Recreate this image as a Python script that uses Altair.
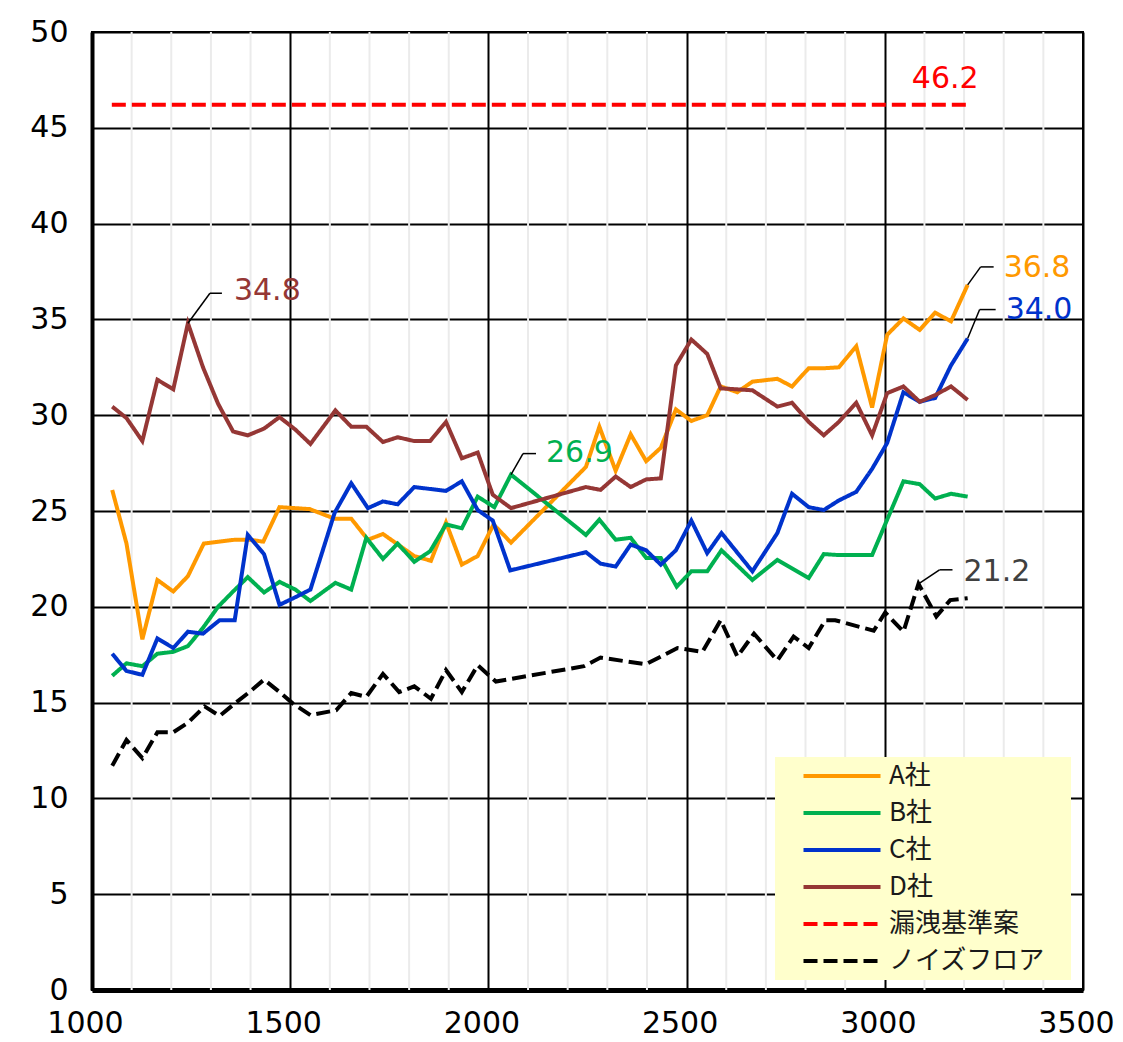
import altair as alt
import pandas as pd

# ---------------- data ----------------
series_names = ["A社", "B社", "C社", "D社", "漏洩基準案", "ノイズフロア"]
series_colors = ["#FF9900", "#00B050", "#0033CC", "#953735", "#FF0000", "#000000"]

a_x = [1051, 1087, 1127, 1165, 1205, 1242, 1282, 1320, 1360, 1398, 1432, 1473, 1512, 1549,
       1612, 1654, 1696, 1734, 1813, 1855, 1893, 1933, 1973, 2013, 2057, 2246, 2280, 2321,
       2359, 2398, 2435, 2473, 2512, 2552, 2586, 2628, 2666, 2729, 2766, 2808, 2846, 2884,
       2928, 2968, 3006, 3047, 3088, 3127, 3167, 3209]
a_y = [26.1, 23.3, 18.3, 21.4, 20.8, 21.6, 23.3, 23.4, 23.5, 23.5, 23.4, 25.2, 25.15, 25.1,
       24.6, 24.6, 23.5, 23.8, 22.65, 22.4, 24.4, 22.2, 22.65, 24.3, 23.35, 27.3, 29.4, 27.1,
       29.0, 27.6, 28.3, 30.3, 29.7, 30.0, 31.5, 31.2, 31.75, 31.9, 31.5, 32.45, 32.45, 32.5,
       33.6, 30.4, 34.2, 35.05, 34.45, 35.35, 34.9, 36.8]

b_x = [1051, 1087, 1127, 1165, 1205, 1242, 1280, 1318, 1356, 1393, 1434, 1473, 1513, 1551,
       1614, 1654, 1692, 1734, 1771, 1813, 1853, 1893, 1933, 1973, 2015, 2057, 2246, 2280,
       2321, 2359, 2398, 2435, 2475, 2512, 2552, 2588, 2666, 2729, 2808, 2846, 2884, 2928,
       2968, 3047, 3088, 3127, 3167, 3209]
b_y = [16.4, 17.05, 16.9, 17.55, 17.65, 17.95, 18.9, 20.0, 20.8, 21.55, 20.75, 21.3, 20.9, 20.3,
       21.25, 20.9, 23.6, 22.5, 23.3, 22.35, 22.9, 24.3, 24.1, 25.75, 25.2, 26.9, 23.75, 24.55,
       23.5, 23.6, 22.55, 22.55, 21.05, 21.85, 21.85, 22.95, 21.4, 22.45, 21.5, 22.75, 22.7, 22.7,
       22.7, 26.55, 26.4, 25.65, 25.9, 25.75]

c_x = [1051, 1087, 1127, 1165, 1205, 1242, 1280, 1322, 1360, 1393, 1434, 1473, 1513, 1551,
       1612, 1654, 1696, 1734, 1771, 1813, 1853, 1893, 1933, 1973, 2011, 2055, 2246, 2283,
       2321, 2359, 2398, 2435, 2473, 2512, 2552, 2588, 2666, 2729, 2766, 2808, 2846, 2884,
       2928, 2968, 3006, 3047, 3088, 3127, 3167, 3209]
c_y = [17.55, 16.65, 16.45, 18.35, 17.85, 18.7, 18.6, 19.3, 19.3, 23.75, 22.75, 20.1, 20.5, 20.9,
       24.9, 26.45, 25.15, 25.5, 25.35, 26.25, 26.15, 26.05, 26.55, 25.05, 24.5, 21.9, 22.85, 22.25,
       22.1, 23.25, 22.95, 22.2, 22.95, 24.5, 22.8, 23.85, 21.85, 23.85, 25.9, 25.2, 25.05, 25.55,
       26.0, 27.2, 28.55, 31.2, 30.7, 30.9, 32.6, 34.0]

d_x = [1051, 1087, 1127, 1165, 1205, 1242, 1280, 1318, 1356, 1393, 1434, 1473, 1513, 1551,
       1614, 1654, 1692, 1734, 1771, 1813, 1853, 1893, 1933, 1973, 2011, 2057, 2246, 2283,
       2321, 2359, 2398, 2435, 2473, 2512, 2552, 2586, 2628, 2666, 2729, 2766, 2808, 2846,
       2884, 2928, 2968, 3006, 3047, 3088, 3127, 3167, 3209]
d_y = [30.45, 29.85, 28.65, 31.85, 31.35, 34.8, 32.5, 30.6, 29.15, 28.95, 29.3, 29.9, 29.25, 28.5,
       30.25, 29.4, 29.4, 28.6, 28.85, 28.65, 28.65, 29.65, 27.75, 28.05, 25.85, 25.15, 26.25, 26.1,
       26.8, 26.25, 26.65, 26.7, 32.6, 33.95, 33.2, 31.4, 31.35, 31.3, 30.45, 30.65, 29.65, 28.95,
       29.65, 30.65, 28.95, 31.15, 31.5, 30.7, 31.05, 31.5, 30.8]

limit_x = [1050, 3209]
limit_y = [46.2, 46.2]

noise_x = [1051, 1087, 1127, 1165, 1205, 1242, 1284, 1322, 1360, 1397, 1434, 1473, 1507, 1551,
           1616, 1654, 1692, 1734, 1775, 1813, 1855, 1893, 1933, 1973, 2019, 2241, 2283, 2397,
           2477, 2540, 2586, 2628, 2670, 2729, 2770, 2808, 2850, 2875, 2972, 3001, 3047, 3085,
           3130, 3165, 3209]
noise_y = [11.7, 13.05, 12.1, 13.45, 13.45, 13.95, 14.8, 14.3, 14.95, 15.55, 16.2, 15.55, 14.95, 14.35,
           14.6, 15.5, 15.3, 16.5, 15.55, 15.85, 15.2, 16.7, 15.55, 16.95, 16.1, 16.9, 17.35, 17.0,
           17.85, 17.65, 19.3, 17.4, 18.6, 17.2, 18.45, 17.85, 19.3, 19.3, 18.75, 19.7, 18.7, 21.2,
           19.5, 20.35, 20.45]

x_labels = list(range(1000, 3501, 500))
x_minor = [v for v in range(1000, 3501, 100) if v % 500 != 0]
y_ticks = list(range(0, 51, 5))

# ---------------- tables ----------------
xs = [a_x, b_x, c_x, d_x, limit_x, noise_x]
ys = [a_y, b_y, c_y, d_y, limit_y, noise_y]
rows = []
for name, sx, sy in zip(series_names, xs, ys):
    for xv, yv in zip(sx, sy):
        rows.append({"series": name, "x": xv, "y": yv})
df = pd.DataFrame(rows)


def peak(sx, sy):
    i = max(range(len(sy)), key=lambda k: sy[k])
    return sx[i], sy[i]


# label anchors read from the series; offsets are styling
callouts = [
    (peak(d_x, d_y), series_colors[3], (22, -30, 12, 46, -32)),
    (peak(b_x, b_y), series_colors[1], (12, -21, 13, 35, -22)),
    ((a_x[-1], a_y[-1]), series_colors[0], (13, -18, 13, 36, -17)),
    ((c_x[-1], c_y[-1]), series_colors[2], (12, -29, 16, 38, -29)),
    (peak(noise_x, noise_y), "#404040", (21, -14, 13, 45, -12)),
]

xscale = alt.Scale(domain=[1000, 3500], nice=False, zero=False)
yscale = alt.Scale(domain=[0, 50], nice=False, zero=True)

x_axis = alt.Axis(
    values=x_labels, format="d",
    gridColor="#000000", gridWidth=2, domainColor="#000000", domainWidth=5,
    ticks=False, tickSize=0,
    labelFontSize=30, labelFont="DejaVu Sans", labelColor="#000000",
    labelPadding=18, labelOffset=-7, labelFlush=False, labelOverlap=False, title=None,
)
y_axis = alt.Axis(
    values=y_ticks, format="d", gridColor="#000000", gridWidth=2,
    domainColor="#000000", domainWidth=4, ticks=False, tickSize=0,
    labelFontSize=30, labelFont="DejaVu Sans", labelColor="#000000",
    labelPadding=24, labelOverlap=False, title=None,
)

legend_expr = "datum.label + '\u2800'"

X = lambda: alt.X("x:Q", scale=xscale, axis=x_axis)
Y = lambda: alt.Y("y:Q", scale=yscale, axis=y_axis)

# minor vertical gridlines (light grey)
minor = alt.Chart(pd.DataFrame({"x": x_minor})).mark_rule(color="#ebebeb", strokeWidth=2).encode(
    x=X()
)

lines = alt.Chart(df).mark_line(strokeCap="butt", strokeJoin="miter").encode(
    x=X(),
    y=Y(),
    color=alt.Color("series:N", scale=alt.Scale(domain=series_names, range=series_colors),
                    legend=alt.Legend(title=None, labelExpr=legend_expr)),
    strokeDash=alt.StrokeDash("series:N",
                              scale=alt.Scale(domain=series_names,
                                              range=[[1, 0], [1, 0], [1, 0], [1, 0], [14, 6], [14, 6]]),
                              legend=alt.Legend(title=None, labelExpr=legend_expr)),
    strokeWidth=alt.StrokeWidth("series:N",
                                scale=alt.Scale(domain=series_names, range=[4, 4, 4, 4, 5, 5]),
                                legend=None),
    order=alt.Order("x:Q"),
)

layers = [minor, lines]

for (px, py), col, (ddx, ddy, hl, tdx, tdy) in callouts:
    cdf = pd.DataFrame([{"x": px, "y": py, "t": f"{py:.1f}"}])
    base = alt.Chart(cdf)
    diag = base.mark_rule(color="#000000", strokeWidth=1.5, x2Offset=ddx, y2Offset=ddy).encode(
        x=X(), x2="x:Q", y=Y(), y2="y:Q")
    hor = base.mark_rule(color="#000000", strokeWidth=1.5, xOffset=ddx, x2Offset=ddx + hl,
                         yOffset=ddy, y2Offset=ddy).encode(
        x=X(), x2="x:Q", y=Y(), y2="y:Q")
    txt = base.mark_text(align="left", baseline="middle", dx=tdx, dy=tdy, fontSize=30,
                         font="DejaVu Sans", color=col).encode(
        x=X(), y=Y(), text="t:N")
    layers += [diag, hor, txt]

ldf = pd.DataFrame([{"x": limit_x[-1], "y": limit_y[-1], "t": f"{limit_y[-1]:.1f}"}])
limit_label = alt.Chart(ldf).mark_text(align="right", baseline="middle", dx=11, dy=-26,
                                       fontSize=30, font="DejaVu Sans",
                                       color=series_colors[4]).encode(
    x=X(), y=Y(), text="t:N")
layers.append(limit_label)

chart = alt.layer(*layers).properties(
    width=991, height=958,
    autosize=alt.AutoSizeParams(type="none"),
    padding={"left": 84, "top": 24, "right": 32, "bottom": 44},
).configure_view(
    stroke="#000000", strokeWidth=2
).configure_legend(
    orient="none", legendX=683, legendY=725, fillColor="#FFFFCC", padding=6,
    symbolType="M-3.85,0H3.85", symbolSize=400, symbolStrokeWidth=5,
    symbolOffset=48, labelOffset=34, rowPadding=11,
    labelFontSize=26, labelFont="Noto Sans CJK JP", labelColor="#1a1a1a",
    labelLimit=400,
)

chart.save("out.html", embed_options={"renderer": "svg", "actions": False})
